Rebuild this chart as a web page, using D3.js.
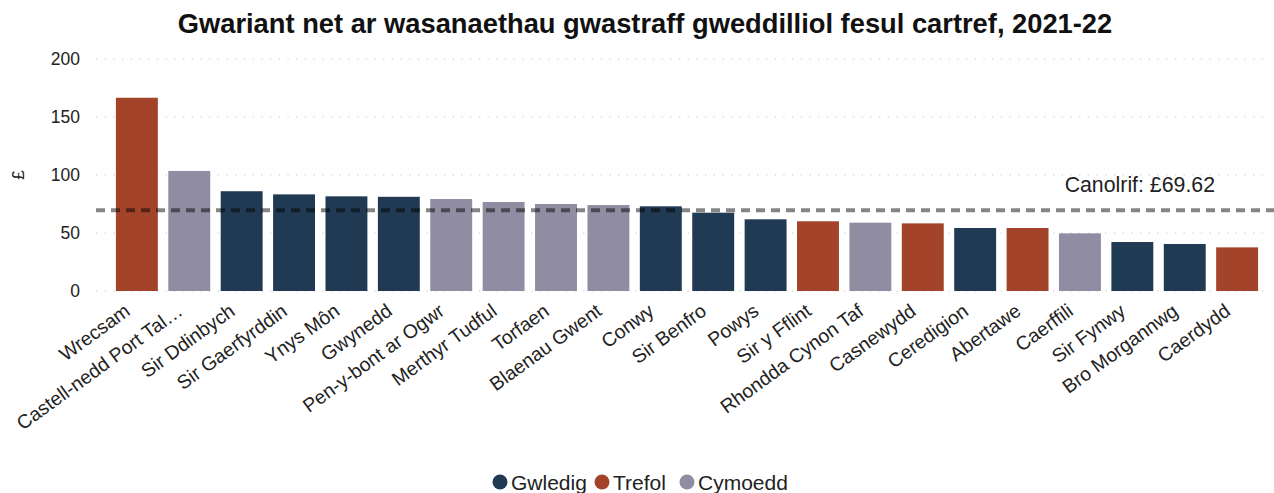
<!DOCTYPE html>
<html>
<head>
<meta charset="utf-8">
<script src="https://cdn.jsdelivr.net/npm/d3@7"></script>
<style>
  body { margin: 0; background: #fff; }
  svg { display: block; font-family: 'Liberation Sans', Arial, sans-serif; }
</style>
</head>
<body>
<div id="chart"></div>
<script>
// data
const areas = ['Wrecsam', 'Castell-nedd Port Tal…', 'Sir Ddinbych', 'Sir Gaerfyrddin', 'Ynys Môn', 'Gwynedd',
  'Pen-y-bont ar Ogwr', 'Merthyr Tudful', 'Torfaen', 'Blaenau Gwent', 'Conwy', 'Sir Benfro', 'Powys',
  'Sir y Fflint', 'Rhondda Cynon Taf', 'Casnewydd', 'Ceredigion', 'Abertawe', 'Caerffili', 'Sir Fynwy',
  'Bro Morgannwg', 'Caerdydd']
const spend = [166.6, 103.5, 86.0, 83.3, 81.6, 81.2, 79.3, 76.7, 75.0, 74.1, 73.0, 67.5, 61.8,
  60.1, 58.9, 58.3, 54.3, 54.3, 49.7, 42.2, 40.5, 37.6]
const groups = ['Trefol', 'Cymoedd', 'Gwledig', 'Gwledig', 'Gwledig', 'Gwledig', 'Cymoedd', 'Cymoedd',
  'Cymoedd', 'Cymoedd', 'Gwledig', 'Gwledig', 'Gwledig', 'Trefol', 'Cymoedd', 'Trefol', 'Gwledig',
  'Trefol', 'Cymoedd', 'Gwledig', 'Gwledig', 'Trefol']
const legendKeys = ['Gwledig', 'Trefol', 'Cymoedd']
const yTicks = [0, 50, 100, 150, 200]
const average = 69.62

const width = 1274
const height = 493
const margin = {top: 59, right: 4, bottom: 202, left: 96}

const rows = areas.map((a, i) => ({area: a, value: spend[i], group: groups[i]}))

const color = d3.scaleOrdinal()
  .domain(legendKeys)
  .range(['#1f3a52', '#a2432a', '#908da2'])

const svg = d3.select('#chart').append('svg')
  .attr('width', width)
  .attr('height', height)

const x = d3.scaleBand()
  .domain(areas)
  .range([margin.left, 1278])
  .paddingInner(0.2)
  .paddingOuter(0.38)

const y = d3.scaleLinear()
  .domain([0, 200])
  .range([height - margin.bottom, margin.top])

// title
svg.append('text')
  .attr('x', 645)
  .attr('y', 33)
  .attr('text-anchor', 'middle')
  .attr('font-size', 27.3)
  .attr('font-weight', 'bold')
  .attr('fill', '#111')
  .text('Gwariant net ar wasanaethau gwastraff gweddilliol fesul cartref, 2021-22')

// grid
svg.append('g')
  .selectAll('line')
  .data(yTicks)
  .join('line')
  .attr('x1', margin.left)
  .attr('x2', 1270)
  .attr('y1', d => y(d))
  .attr('y2', d => y(d))
  .attr('stroke', '#c8c8c8')
  .attr('stroke-width', 1)
  .attr('stroke-dasharray', '1.3 7.4')

// y axis labels
const yAxis = svg.append('g')
  .attr('transform', `translate(${margin.left - 16},0)`)
  .call(d3.axisLeft(y).tickValues(yTicks).tickSize(0).tickPadding(0))
yAxis.select('.domain').remove()
yAxis.selectAll('text')
  .attr('font-size', 17.5)
  .attr('font-family', 'Liberation Sans, Arial, sans-serif')
  .attr('fill', '#222')

svg.append('text')
  .attr('transform', `translate(24, ${y(100)}) rotate(-90)`)
  .attr('text-anchor', 'middle')
  .attr('font-size', 17)
  .attr('fill', '#222')
  .text('£')

// bars
svg.append('g')
  .selectAll('rect')
  .data(rows)
  .join('rect')
  .attr('x', d => x(d.area))
  .attr('y', d => y(d.value))
  .attr('width', x.bandwidth())
  .attr('height', d => y(0) - y(d.value))
  .attr('fill', d => color(d.group))

// x labels
svg.append('g')
  .selectAll('text')
  .data(rows)
  .join('text')
  .attr('transform', d => `translate(${x(d.area) + x.bandwidth() / 2 - 14}, ${y(0) + 11}) rotate(-36)`)
  .attr('dy', '0.75em')
  .attr('text-anchor', 'end')
  .attr('font-size', 19.4)
  .attr('fill', '#222')
  .text(d => d.area)

// average line
svg.append('line')
  .attr('x1', margin.left)
  .attr('x2', width)
  .attr('y1', y(average))
  .attr('y2', y(average))
  .attr('stroke', '#000')
  .attr('stroke-opacity', 0.48)
  .attr('stroke-width', 4)
  .attr('stroke-dasharray', '9 6')

svg.append('text')
  .attr('x', 1215)
  .attr('y', 192)
  .attr('text-anchor', 'end')
  .attr('font-size', 21.3)
  .attr('fill', '#222')
  .text('Canolrif: £' + average.toFixed(2))

// legend
const legend = svg.append('g')
  .attr('transform', 'translate(0, 482)')
const lx = [500, 602, 687]
legendKeys.forEach((k, i) => {
  const item = legend.append('g').attr('transform', `translate(${lx[i]},0)`)
  item.append('circle').attr('r', 7.5).attr('fill', color(k))
  item.append('text')
    .attr('x', 11)
    .attr('dy', '0.36em')
    .attr('font-size', 21)
    .attr('fill', '#222')
    .text(k)
})
</script>
</body>
</html>
